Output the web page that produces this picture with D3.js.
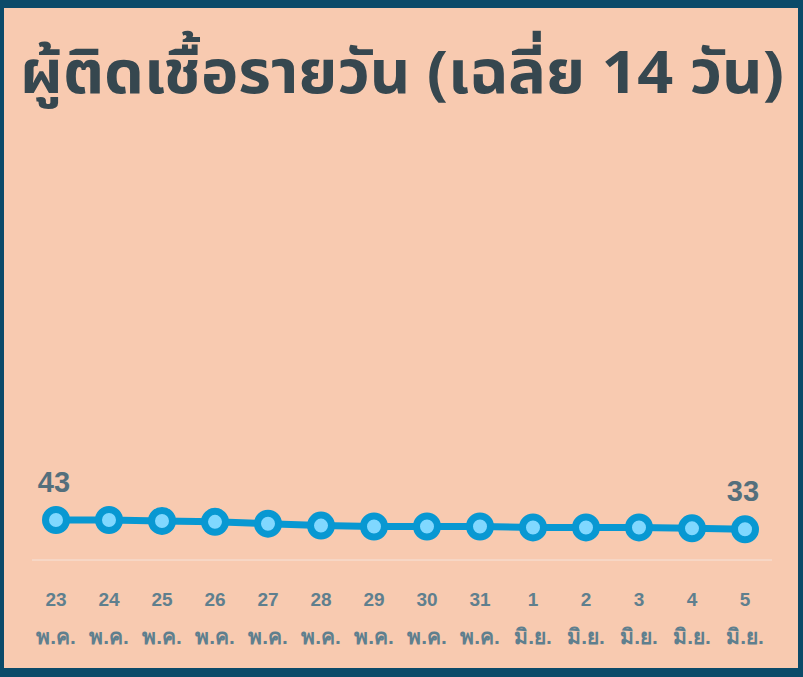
<!DOCTYPE html>
<html lang="th">
<head>
<meta charset="UTF-8">
<title>ผู้ติดเชื้อรายวัน</title>
<style>
  * { margin: 0; padding: 0; }
  html, body { overflow: hidden; background: #0b4a69; }
</style>
</head>
<body>
<div id="chart"></div>
<script src="https://cdn.jsdelivr.net/npm/d3@7"></script>
<script>
  // data
  const days = ['23', '24', '25', '26', '27', '28', '29', '30', '31', '1', '2', '3', '4', '5']
  const months = ['พ.ค.', 'พ.ค.', 'พ.ค.', 'พ.ค.', 'พ.ค.', 'พ.ค.', 'พ.ค.', 'พ.ค.', 'พ.ค.', 'มิ.ย.', 'มิ.ย.', 'มิ.ย.', 'มิ.ย.', 'มิ.ย.']
  const values = [43, 43, 42, 41, 39, 37, 36, 36, 36, 35, 35, 35, 34, 33]
  const title = 'ผู้ติดเชื้อรายวัน (เฉลี่ย 14 วัน)'

  function drawChart() {
    const width = 803
    const height = 677
    const svg = d3.select('#chart')
      .append('svg')
      .attr('width', width)
      .attr('height', height)

    // frame
    svg.append('rect')
      .attr('width', width).attr('height', height)
      .attr('fill', '#0b4a69')
    svg.append('rect')
      .attr('x', 4).attr('y', 8)
      .attr('width', 794).attr('height', 660)
      .attr('fill', '#f8cab0')

    svg.append('text')
      .attr('x', 20).attr('y', 93)
      .attr('textLength', 764)
      .attr('lengthAdjust', 'spacingAndGlyphs')
      .style('font-family', 'Tahoma, "Noto Sans Thai", "DejaVu Sans", sans-serif')
      .style('font-weight', 'bold')
      .style('font-size', '60px')
      .attr('fill', '#36474f')
      .text(title)

    const x = d3.scalePoint()
      .domain(d3.range(days.length))
      .range([56, 745])

    const y = d3.scaleLinear()
      .domain([0, 43])
      .range([560, 520])

    // baseline
    svg.append('line')
      .attr('x1', 32).attr('x2', 772)
      .attr('y1', y(0)).attr('y2', y(0))
      .attr('stroke', '#f5e3da')
      .attr('stroke-width', 1)

    // x labels
    const lab = svg.append('g')
      .style('font-family', '"Liberation Sans", Arial, sans-serif')
      .style('font-weight', 'bold')
      .attr('fill', '#5f7f8e')
      .attr('text-anchor', 'middle')

    lab.selectAll('.day')
      .data(days)
      .join('text')
      .attr('class', 'day')
      .attr('x', (d, i) => x(i))
      .attr('y', 606)
      .style('font-size', '19px')
      .text(d => d)

    lab.selectAll('.month')
      .data(months)
      .join('text')
      .attr('class', 'month')
      .attr('x', (d, i) => x(i))
      .attr('y', 644)
      .style('font-size', '21px')
      .text(d => d)

    const line = d3.line()
      .x((d, i) => x(i))
      .y(d => y(d))

    svg.append('path')
      .datum(values)
      .attr('d', line)
      .attr('fill', 'none')
      .attr('stroke', '#0898d2')
      .attr('stroke-width', 7)

    svg.selectAll('circle')
      .data(values)
      .join('circle')
      .attr('cx', (d, i) => x(i))
      .attr('cy', d => y(d))
      .attr('r', 10.5)
      .attr('fill', '#80d8ff')
      .attr('stroke', '#0898d2')
      .attr('stroke-width', 7)

    // first and last value labels
    const ends = [0, values.length - 1]
    svg.selectAll('.val')
      .data(ends)
      .join('text')
      .attr('class', 'val')
      .attr('x', i => x(i) - 2)
      .attr('y', i => y(values[i]) - 28)
      .attr('text-anchor', 'middle')
      .style('font-family', '"Liberation Sans", Arial, sans-serif')
      .style('font-weight', 'bold')
      .style('font-size', '29px')
      .attr('fill', '#546f7c')
      .text(i => values[i])
  }

  drawChart()
</script>
</body>
</html>
